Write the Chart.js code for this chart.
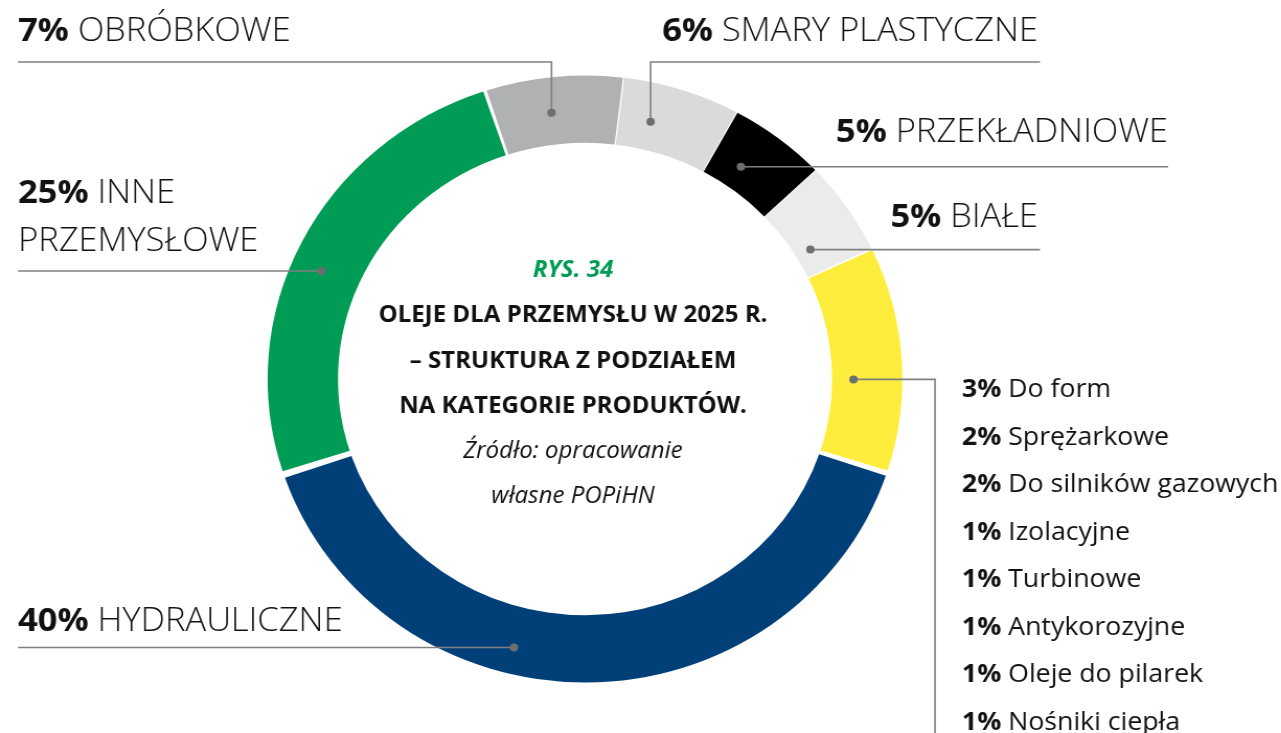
<!DOCTYPE html>
<html lang="pl">
<head>
<meta charset="utf-8">
<script src="https://cdn.jsdelivr.net/npm/chart.js@4.4.1/dist/chart.umd.min.js"></script>
<style>
  html, body { margin: 0; padding: 0; background: #fff; overflow: hidden; }
  #wrap { position: relative; width: 1225px; height: 733px; transform: scaleX(1.0458); transform-origin: 0 0; }
</style>
</head>
<body>
<div id="wrap"><canvas id="myChart"></canvas></div>
<script>
// data set
var categories = ['SMARY PLASTYCZNE', 'PRZEKŁADNIOWE', 'BIAŁE', 'POZOSTAŁE', 'HYDRAULICZNE', 'INNE\nPRZEMYSŁOWE', 'OBRÓBKOWE'];
var shares = [6, 5, 5, null, 40, 25, 7];

// small groups merged into the yellow slice
var otherNames = ['Do form', 'Sprężarkowe', 'Do silników gazowych', 'Izolacyjne', 'Turbinowe', 'Antykorozyjne', 'Oleje do pilarek', 'Nośniki ciepła'];
var otherShares = [3, 2, 2, 1, 1, 1, 1, 1];

var sliceColors = ['#d9dadb', '#000000', '#ebebeb', '#ffed3d', '#003f78', '#009c55', '#b0b1b3'];

var titleLines = ['OLEJE DLA PRZEMYSŁU W 2025 R.', '– STRUKTURA Z PODZIAŁEM', 'NA KATEGORIE PRODUKTÓW.'];
var sourceLines = ['Źródło: opracowanie', 'własne POPiHN'];

var otherIndex = shares.indexOf(null);
shares[otherIndex] = otherShares.reduce((a, b) => a + b, 0);

const S = 1.0458;            // wrapper is stretched horizontally by this
const px = x => x / S;
const FONT = '"Open Sans", "Noto Sans", sans-serif';
const LINE = '#808080';
const DOT = '#6d6e71';
const HALF = 303.5;          // half of the square chart area

// leader layout per slice: t = position along the arc, f = position across the ring,
// route = polyline from the dot out to the label
const leaders = [
  { t: 0.31, f: 0.47, route: d => [[d.x, d.y], [d.x, 62], [px(1040), 62]], align: 'right', x: px(1038), y: 41 },
  { t: 0.36, f: 0.39, route: d => [[d.x, d.y], [px(1168), d.y]], align: 'right', x: px(1168), y: 142 },
  { t: 0.69, f: 0.27, route: d => [[d.x, d.y], [px(1040), d.y]], align: 'right', x: px(1038), y: 227 },
  { t: 0.59, f: 0.35, route: d => [[d.x, d.y], [px(935), d.y], [px(935), 740]], align: 'list', x: px(962), y: 397 },
  { t: 0.60, f: 0.65, route: d => [[d.x, d.y], [px(18), d.y]], align: 'left', x: px(18), y: 631 },
  { t: 0.46, f: 0.61, route: d => [[d.x, d.y], [px(18), d.y]], align: 'left', x: px(18), y: 203 },
  { t: 0.45, f: 0.52, route: d => [[d.x, d.y], [d.x, 62], [px(18), 62]], align: 'left', x: px(18), y: 41 }
];

function pctText(ctx, pct, name, x, y, align, size, weight) {
  const boldFont = '700 ' + size + 'px ' + FONT;
  const thinFont = weight + ' ' + size + 'px ' + FONT;
  const head = pct + '% ';
  ctx.font = boldFont;
  const w1 = ctx.measureText(head).width;
  ctx.font = thinFont;
  const w2 = ctx.measureText(name).width;
  let x0 = align === 'right' ? x - w1 - w2 : x;
  ctx.textAlign = 'left';
  ctx.font = boldFont;
  ctx.fillText(head, x0, y);
  ctx.font = thinFont;
  ctx.fillText(name, x0 + w1, y);
}

const labelPlugin = {
  id: 'leaderLabels',
  afterDatasetsDraw(chart) {
    const ctx = chart.ctx;
    const meta = chart.getDatasetMeta(0);
    ctx.save();
    ctx.textBaseline = 'alphabetic';
    ctx.fillStyle = '#111';

    meta.data.forEach((arc, i) => {
      const p = arc.getProps(['x', 'y', 'startAngle', 'endAngle', 'innerRadius', 'outerRadius']);
      const L = leaders[i];
      const a = p.startAngle + (p.endAngle - p.startAngle) * L.t;
      const r = p.innerRadius + (p.outerRadius - p.innerRadius) * L.f;
      const dot = { x: p.x + Math.cos(a) * r, y: p.y + Math.sin(a) * r };

      const pts = L.route(dot);
      ctx.strokeStyle = LINE;
      ctx.lineWidth = 1.6;
      ctx.beginPath();
      pts.forEach((q, k) => k ? ctx.lineTo(q[0], q[1]) : ctx.moveTo(q[0], q[1]));
      ctx.stroke();

      ctx.fillStyle = DOT;
      ctx.beginPath();
      ctx.arc(dot.x, dot.y, 4, 0, Math.PI * 2);
      ctx.fill();

      ctx.fillStyle = '#111';
      if (L.align === 'list') {
        otherNames.forEach((n, k) => {
          pctText(ctx, otherShares[k], n, L.x, L.y + k * 47.5, 'left', 25.5, 400);
        });
      } else {
        const parts = categories[i].split('\n');
        pctText(ctx, shares[i], parts[0], L.x, L.y, L.align, 33, 300);
        for (let k = 1; k < parts.length; k++) {
          ctx.font = '300 33px ' + FONT;
          ctx.textAlign = 'left';
          ctx.fillText(parts[k], L.x, L.y + k * 48);
        }
      }
    });

    // texts in the middle of the ring
    const cx = px(573);
    ctx.textAlign = 'center';
    ctx.fillStyle = '#009c55';
    ctx.font = 'italic 700 23px ' + FONT;
    ctx.fillText('RYS. 34', cx, 277);
    ctx.fillStyle = '#111';
    ctx.font = '700 23px ' + FONT;
    titleLines.forEach((t, k) => ctx.fillText(t, cx, 322 + k * 45.5));
    ctx.font = 'italic 400 23px ' + FONT;
    sourceLines.forEach((t, k) => ctx.fillText(t, cx, 458 + k * 45));
    ctx.restore();
  }
};

new Chart('myChart', {
  type: 'doughnut',
  data: {
    labels: categories,
    datasets: [{
      data: shares,
      backgroundColor: sliceColors,
      borderWidth: 0,
      spacing: 6
    }]
  },
  options: {
    responsive: true,
    maintainAspectRatio: false,
    animation: false,
    rotation: 7,
    cutout: '77.6%',
    layout: {
      padding: { left: px(585) - HALF, top: 379 - HALF, right: 1225 - px(585) - HALF, bottom: 733 - 379 - HALF }
    },
    plugins: {
      legend: { display: false },
      tooltip: { enabled: false }
    }
  },
  plugins: [labelPlugin]
});
</script>
</body>
</html>
